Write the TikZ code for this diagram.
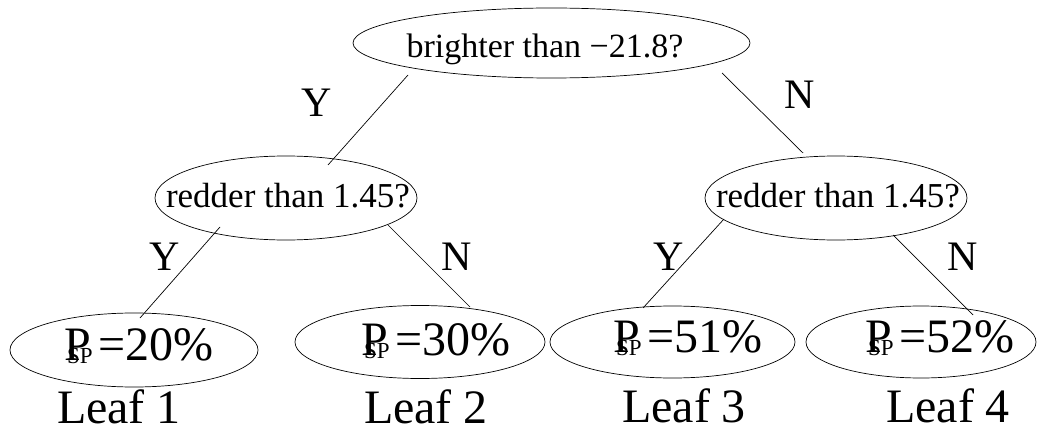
\documentclass[tikz,border=0pt]{standalone}
\usepackage{fontspec}
\setmainfont{Liberation Serif}
\usetikzlibrary{shapes.geometric}
\tikzset{
  oval/.style={draw, ellipse, inner sep=0pt, line width=0.7pt},
  edge/.style={line width=0.7pt},
  qtext/.style={anchor=base, inner sep=0pt, font=\fontsize{35}{40}\selectfont},
  ptext/.style={anchor=base, inner sep=0pt, font=\fontsize{48}{54}\selectfont},
  lbl/.style={anchor=base, inner sep=0pt, font=\fontsize{48}{54}\selectfont},
  yn/.style={inner sep=0pt, font=\fontsize{42}{48}\selectfont}
}
\newcommand{\psp}[1]{P\hspace{-24pt}\raisebox{-3pt}{\fontsize{23}{24}\selectfont SP}\hspace{6pt}=#1\%}
\begin{document}
\begin{tikzpicture}[x=1pt,y=-1pt]
\useasboundingbox (0,0) rectangle (1039,425);
% ellipses
\node[oval, minimum width=397pt, minimum height=70pt] (top) at (551.5,43) {};
\node[oval, minimum width=262pt, minimum height=84pt] (ml) at (286,198) {};
\node[oval, minimum width=262pt, minimum height=84pt] (mr) at (836,198) {};
\node[oval, minimum width=248pt, minimum height=74pt] (l1) at (134,350) {};
\node[oval, minimum width=250pt, minimum height=73pt] (l2) at (420,342) {};
\node[oval, minimum width=245pt, minimum height=72pt] (l3) at (672.5,342) {};
\node[oval, minimum width=230pt, minimum height=72pt] (l4) at (921,342) {};
% texts
\node[qtext, font=\fontsize{34}{40}\selectfont] (ttop) at (545,58) {brighter than −21.8?};
\node[qtext] (tml) at (288,207) {redder than 1.45?};
\node[qtext] (tmr) at (838,207) {redder than 1.45?};
\node[ptext] (t1) at (139,360) {\psp{20}};
\node[ptext] (t2) at (436,355) {\psp{30}};
\node[ptext] (t3) at (688,352) {\psp{51}};
\node[ptext] (t4) at (940,352) {\psp{52}};
\node[lbl] (f1) at (119,423) {Leaf 1};
\node[lbl] (f2) at (426,423) {Leaf 2};
\node[lbl] (f3) at (684,422) {Leaf 3};
\node[lbl] (f4) at (948,422) {Leaf 4};
% Y/N labels
\node[yn] (y0) at (317,103) {Y};
\node[yn] (n0) at (800,95) {N};
\node[yn] (y1) at (165,257) {Y};
\node[yn] (n1) at (457,257) {N};
\node[yn] (y2) at (669,257) {Y};
\node[yn] (n2) at (963,257) {N};
% connector ends
\coordinate (a0) at (408,75);  \coordinate (b0) at (328,165);
\coordinate (a1) at (722,73);  \coordinate (b1) at (803,153);
\coordinate (a2) at (220,227); \coordinate (b2) at (140,318);
\coordinate (a3) at (388,225); \coordinate (b3) at (470,307);
\coordinate (a4) at (724,219); \coordinate (b4) at (643,308);
\coordinate (a5) at (893,235); \coordinate (b5) at (973,315);
\draw[edge] (a0) -- (b0);
\draw[edge] (a1) -- (b1);
\draw[edge] (a2) -- (b2);
\draw[edge] (a3) -- (b3);
\draw[edge] (a4) -- (b4);
\draw[edge] (a5) -- (b5);
\end{tikzpicture}
\end{document}
